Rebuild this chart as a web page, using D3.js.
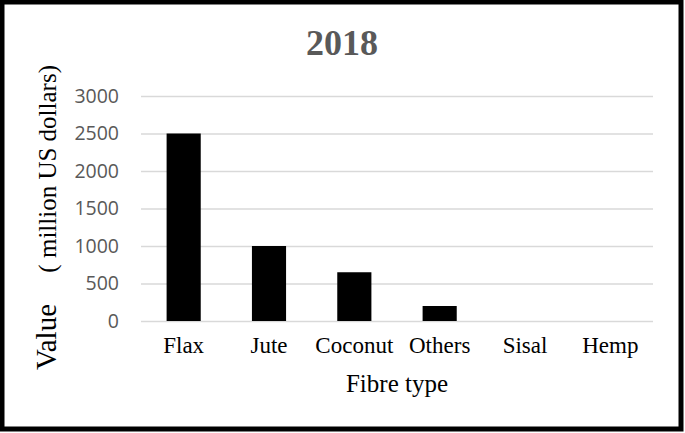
<!doctype html>
<html lang="en">
  <head>
    <meta charset="utf-8">
    <title>2018 - Fibre type</title>
    <script src="https://d3js.org/d3.v7.min.js"></script>
    <style>
      body { margin: 0; background: #fff; }
      .tick text { font-family: "Open Sans", sans-serif; }
    </style>
  </head>
  <body>
    <div class='visholder'></div>
    <script>
      // data
      const fibres = ['Flax', 'Jute', 'Coconut', 'Others', 'Sisal', 'Hemp'];
      const values = [2500, 1000, 650, 200, 0, 0];
      const yTicks = [0, 500, 1000, 1500, 2000, 2500, 3000];

      const w = 685;
      const h = 433;
      const plotLeft = 141, plotRight = 653, plotTop = 96, plotBottom = 321;

      const svg = d3.select('.visholder')
        .append('svg')
        .attr('width', w)
        .attr('height', h)

      // outer frame
      svg.append('rect')
        .attr('x', 2).attr('y', 2)
        .attr('width', 679).attr('height', 427)
        .attr('fill', '#fff')
        .attr('stroke', '#000')
        .attr('stroke-width', 5)

      const xScale = d3.scaleBand()
        .domain(fibres)
        .range([plotLeft, plotRight])
        .paddingInner(0.6)
        .paddingOuter(0.3)

      const yScale = d3.scaleLinear()
        .domain([0, 3000])
        .range([plotBottom, plotTop])

      // gridlines + y labels
      const yAxis = d3.axisLeft(yScale)
        .tickValues(yTicks)
        .tickSize(-(plotRight - plotLeft))
        .tickPadding(22)
        .tickFormat(d3.format('d'))

      const gy = svg.append('g')
        .attr('transform', 'translate(' + plotLeft + ',0)')
        .call(yAxis)
      gy.select('.domain').remove()
      gy.selectAll('.tick line')
        .attr('stroke', '#d9d9d9')
        .attr('stroke-width', 1.5)
      gy.selectAll('.tick text')
        .attr('fill', '#595959')
        .attr('font-size', 19.5)

      // bars
      svg.selectAll('rect.bar')
        .data(values)
        .enter()
        .append('rect')
        .attr('class', 'bar')
        .attr('x', (d, i) => xScale(fibres[i]))
        .attr('y', d => yScale(d))
        .attr('width', xScale.bandwidth())
        .attr('height', d => yScale(0) - yScale(d))
        .attr('fill', '#000')

      // category labels
      const xAxis = d3.axisBottom(xScale).tickSize(0).tickPadding(16)
      const gx = svg.append('g')
        .attr('transform', 'translate(0,' + plotBottom + ')')
        .call(xAxis)
      gx.select('.domain').remove()
      gx.selectAll('.tick text')
        .attr('fill', '#000')
        .style('font-family', '"Liberation Serif", "Times New Roman", serif')
        .attr('font-size', 23)

      // title
      svg.append('text')
        .attr('x', 342)
        .attr('y', 55)
        .attr('text-anchor', 'middle')
        .attr('font-family', '"Liberation Serif", serif')
        .attr('font-weight', 'bold')
        .attr('font-size', 36)
        .attr('fill', '#595959')
        .text('2018')

      // axis titles
      svg.append('text')
        .attr('x', (plotLeft + plotRight) / 2)
        .attr('y', 392)
        .attr('text-anchor', 'middle')
        .attr('font-family', '"Liberation Serif", serif')
        .attr('font-size', 25)
        .attr('fill', '#000')
        .text('Fibre type')

      const yTitle = svg.append('text')
        .attr('transform', 'translate(56,0) rotate(-90)')
        .attr('font-family', '"Liberation Serif", serif')
        .attr('fill', '#000')
      yTitle.append('tspan')
        .attr('x', -370)
        .attr('font-size', 29)
        .text('Value')
      yTitle.append('tspan')
        .attr('x', -65)
        .attr('text-anchor', 'end')
        .attr('font-size', 25)
        .text('( million US dollars)')
    </script>
  </body>
</html>
